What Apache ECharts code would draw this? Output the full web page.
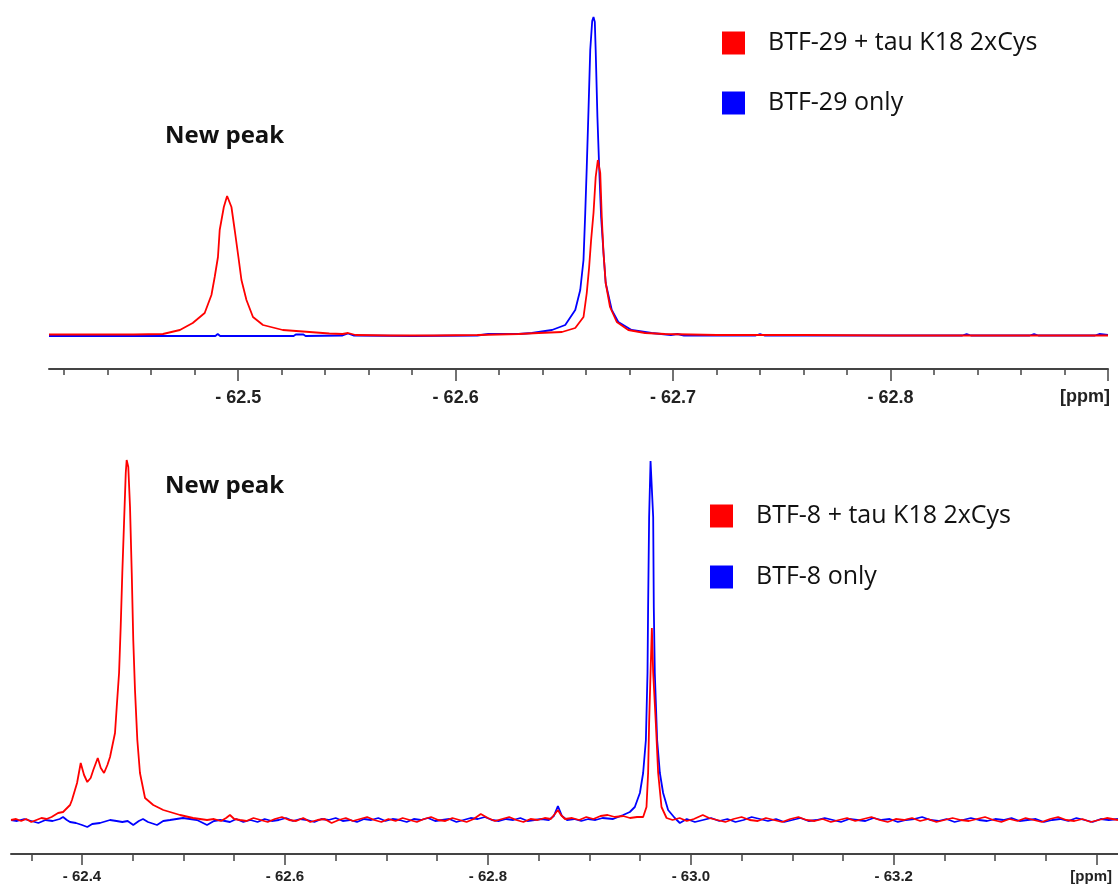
<!DOCTYPE html>
<html>
<head>
<meta charset="utf-8">
<script src="https://cdn.jsdelivr.net/npm/echarts@6/dist/echarts.min.js"></script>
<style>
html,body{margin:0;padding:0;background:#fff;}
#chart{width:1118px;height:886px;}
</style>
</head>
<body>
<div id="chart"></div>
<script>
// ---------- DATA ----------
// Top panel (BTF-29): [ppm, intensity]
const topSeriesNames = ['BTF-29 + tau K18 2xCys', 'BTF-29 only'];
const topRed = [
 [-62.413,1.5],[-62.425,1.5],[-62.440,1.5],[-62.452,1.5],[-62.4654,2],[-62.4732,6],[-62.4791,13],
 [-62.4846,23],[-62.4877,41],[-62.4892,59],[-62.4907,79],[-62.4915,106],[-62.4934,129],[-62.4949,140],
 [-62.4969,129],[-62.4984,106],[-62.5001,79],[-62.5015,56],[-62.5038,36],[-62.5068,19],[-62.5114,11],
 [-62.5205,6],[-62.5328,4],[-62.5419,2.5],[-62.5480,2],[-62.5505,3],[-62.5540,1],[-62.570,0.5],
 [-62.590,0.5],[-62.610,1],[-62.6290,2],[-62.6382,3],[-62.6489,4],[-62.6550,8],[-62.6588,19],
 [-62.6603,43],[-62.6614,69],[-62.6623,96],[-62.6634,123],[-62.6644,159],[-62.6654,176],[-62.6665,163],
 [-62.6672,119],[-62.6680,83],[-62.6690,53],[-62.6710,29],[-62.6741,14],[-62.6794,6],[-62.6871,3],
 [-62.6962,2],[-62.720,1],[-62.760,1],[-62.800,0.5],[-62.850,0.5],[-62.900,0.5]
];
const topBlue = [
 [-62.413,0],[-62.430,0],[-62.450,0],[-62.470,0],[-62.4895,0],[-62.4906,2],[-62.4917,0],[-62.5100,0],
 [-62.5255,0],[-62.5265,1.5],[-62.5300,1.5],[-62.5310,0],[-62.5480,0.5],[-62.5505,2.5],[-62.5530,0.5],
 [-62.5800,0],[-62.6100,0.5],[-62.6150,2],[-62.6290,2],[-62.6351,3],[-62.6443,6],[-62.6504,11],
 [-62.6550,26],[-62.6573,46],[-62.6588,76],[-62.6596,123],[-62.6603,169],[-62.6611,226],[-62.6619,286],
 [-62.6628,315],[-62.6634,319],[-62.6640,314],[-62.6644,286],[-62.6652,219],[-62.6660,169],[-62.6669,119],
 [-62.6680,83],[-62.6690,53],[-62.6718,26],[-62.6748,14],[-62.6809,6],[-62.6901,3],[-62.6990,1],
 [-62.7020,2],[-62.7050,0.5],[-62.7380,0.5],[-62.7400,2],[-62.7420,0.5],[-62.8330,0.5],[-62.8350,2],
 [-62.8370,0.5],[-62.8640,0.5],[-62.8660,2],[-62.8680,0.5],[-62.8940,0.5],[-62.8960,2],[-62.9000,1]
];
const topMajorTicks = [-62.5, -62.6, -62.7, -62.8, -62.9];
const topLabelTicks = [-62.5, -62.6, -62.7, -62.8];
const topMinorTicks = [-62.42,-62.44,-62.46,-62.48,-62.52,-62.54,-62.56,-62.58,-62.62,-62.64,-62.66,-62.68,
 -62.72,-62.74,-62.76,-62.78,-62.82,-62.84,-62.86,-62.88];

// Bottom panel (BTF-8): [ppm, intensity]
const bottomSeriesNames = ['BTF-8 + tau K18 2xCys', 'BTF-8 only'];
const bottomRed = [
 [-62.330,0],[-62.335,1],[-62.340,-1],[-62.345,1],[-62.350,-2],[-62.355,0],[-62.360,2],[-62.365,1],
 [-62.370,3],[-62.3764,7],[-62.3813,8],[-62.3882,15],[-62.3901,20],[-62.3951,37],[-62.3987,57],
 [-62.4020,45],[-62.4052,38],[-62.4085,42],[-62.4111,50],[-62.4155,62],[-62.4185,52],[-62.4217,47],
 [-62.4250,55],[-62.4276,63],[-62.4325,87],[-62.4342,113],[-62.4365,147],[-62.4381,193],[-62.4397,247],
 [-62.4414,297],[-62.4431,347],[-62.4440,360],[-62.4448,358],[-62.4456,353],[-62.4473,313],[-62.4490,247],
 [-62.4505,180],[-62.4522,130],[-62.4545,80],[-62.4571,47],[-62.4621,22],[-62.4702,15],[-62.4801,10],
 [-62.4966,5],[-62.5094,2],[-62.5232,0],[-62.530,1],[-62.537,-1],[-62.542,2],[-62.5458,5],[-62.5500,1],
 [-62.5557,0],[-62.562,-1],[-62.569,2],[-62.576,0],[-62.583,-2],[-62.590,1],[-62.597,3],[-62.604,0],
 [-62.611,-1],[-62.618,2],[-62.625,-2],[-62.632,0],[-62.639,1],[-62.646,-3],[-62.653,0],[-62.660,2],
 [-62.667,-1],[-62.674,1],[-62.681,3],[-62.688,0],[-62.695,-2],[-62.702,1],[-62.709,-1],[-62.716,2],
 [-62.723,0],[-62.730,-2],[-62.737,1],[-62.744,3],[-62.751,0],[-62.758,-1],[-62.765,2],[-62.772,0],
 [-62.779,-2],[-62.786,1],[-62.793,6],[-62.800,2],[-62.807,-1],[-62.814,1],[-62.821,3],[-62.828,0],
 [-62.835,-2],[-62.842,1],[-62.849,0],[-62.856,2],[-62.862,1],[-62.866,6],[-62.869,10],[-62.872,5],
 [-62.876,1],[-62.883,2],[-62.890,0],[-62.897,3],[-62.904,1],[-62.911,4],[-62.918,5],[-62.925,3],
 [-62.9333,4],[-62.940,2],[-62.947,3],[-62.9530,3],[-62.9563,13],[-62.9579,47],[-62.9589,97],
 [-62.9603,147],[-62.9616,192],[-62.9629,147],[-62.9655,97],[-62.9678,47],[-62.9711,13],[-62.9761,2],
 [-62.982,0],[-62.989,2],[-62.996,-1],[-63.003,1],[-63.0118,5],[-63.018,2],[-63.026,0],[-63.034,-2],
 [-63.042,1],[-63.050,3],[-63.058,0],[-63.066,-1],[-63.074,2],[-63.082,0],[-63.090,-2],[-63.098,1],
 [-63.106,3],[-63.114,0],[-63.122,-1],[-63.130,1],[-63.138,-2],[-63.146,0],[-63.154,2],[-63.162,-1],
 [-63.170,1],[-63.178,3],[-63.186,0],[-63.194,-2],[-63.202,1],[-63.210,0],[-63.218,2],[-63.226,-1],
 [-63.234,1],[-63.242,-2],[-63.250,0],[-63.258,2],[-63.266,0],[-63.274,-1],[-63.282,1],[-63.290,3],
 [-63.298,0],[-63.306,-2],[-63.314,1],[-63.322,-1],[-63.330,2],[-63.338,0],[-63.346,-2],[-63.354,1],
 [-63.362,3],[-63.370,0],[-63.378,-1],[-63.386,1],[-63.394,-2],[-63.402,0],[-63.410,2],[-63.421,0]
];
const bottomBlue = [
 [-62.330,0],[-62.336,-1],[-62.343,1],[-62.350,-1],[-62.357,-3],[-62.364,0],[-62.371,-1],[-62.378,1],
 [-62.3813,3],[-62.3850,0],[-62.3882,-2],[-62.394,-3],[-62.4000,-5],[-62.4052,-7],[-62.410,-4],
 [-62.4177,-3],[-62.4276,0],[-62.4340,-1],[-62.4397,-2],[-62.4450,-1],[-62.4505,-5],[-62.4560,-1],
 [-62.4601,1],[-62.465,-2],[-62.4739,-5],[-62.480,-1],[-62.4867,0],[-62.4995,2],[-62.5133,0],
 [-62.5232,-5],[-62.530,-1],[-62.5360,0],[-62.5458,-2],[-62.552,1],[-62.559,-2],[-62.566,0],[-62.573,-2],
 [-62.580,1],[-62.587,-1],[-62.594,0],[-62.601,2],[-62.608,-1],[-62.615,1],[-62.622,0],[-62.629,-2],
 [-62.636,1],[-62.643,0],[-62.650,2],[-62.657,-1],[-62.664,0],[-62.671,-2],[-62.678,1],[-62.685,0],
 [-62.692,2],[-62.699,-1],[-62.706,1],[-62.713,0],[-62.720,-2],[-62.727,1],[-62.734,0],[-62.741,2],
 [-62.748,-1],[-62.755,0],[-62.762,1],[-62.769,-2],[-62.776,0],[-62.783,2],[-62.790,1],[-62.797,3],
 [-62.804,0],[-62.811,-1],[-62.818,1],[-62.825,0],[-62.832,2],[-62.839,-1],[-62.846,0],[-62.853,1],
 [-62.860,0],[-62.865,4],[-62.869,14],[-62.873,4],[-62.878,0],[-62.885,1],[-62.892,-1],[-62.899,1],
 [-62.906,0],[-62.913,2],[-62.9234,1],[-62.9333,5],[-62.9399,8],[-62.9448,13],[-62.9498,27],[-62.9530,47],
 [-62.9557,80],[-62.9573,147],[-62.9579,213],[-62.9589,303],[-62.9603,359],[-62.9616,359],[-62.9629,303],
 [-62.9635,213],[-62.9645,147],[-62.9668,80],[-62.9695,47],[-62.9727,27],[-62.9776,10],[-62.9842,2],
 [-62.9892,-3],[-62.996,1],[-63.004,-2],[-63.012,0],[-63.020,2],[-63.028,-1],[-63.036,1],[-63.044,-2],
 [-63.052,0],[-63.060,3],[-63.068,1],[-63.076,-1],[-63.084,1],[-63.092,-2],[-63.100,0],[-63.108,2],
 [-63.116,-1],[-63.124,0],[-63.132,2],[-63.140,0],[-63.148,-2],[-63.156,1],[-63.164,0],[-63.172,-1],
 [-63.180,2],[-63.188,0],[-63.196,1],[-63.204,-2],[-63.212,0],[-63.220,1],[-63.228,3],[-63.236,0],
 [-63.244,-1],[-63.252,1],[-63.260,-2],[-63.268,0],[-63.276,2],[-63.284,0],[-63.292,-1],[-63.300,1],
 [-63.308,0],[-63.316,2],[-63.324,-1],[-63.332,0],[-63.340,1],[-63.348,-2],[-63.356,0],[-63.364,1],
 [-63.372,-1],[-63.380,2],[-63.388,0],[-63.396,-2],[-63.404,1],[-63.412,0],[-63.421,1]
];
const bottomMajorTicks = [-62.4, -62.6, -62.8, -63.0, -63.2, -63.4];
const bottomLabelTicks = [-62.4, -62.6, -62.8, -63.0, -63.2];
const bottomMinorTicks = [-62.35,-62.45,-62.5,-62.55,-62.65,-62.7,-62.75,-62.85,-62.9,-62.95,
 -63.05,-63.1,-63.15,-63.25,-63.3,-63.35];

const annotationText = 'New peak';
const unitText = '[ppm]';

// ---------- CHART ----------
const RED = '#ff0000', BLUE = '#0000ff';
const labelFmt = v => '- ' + Math.abs(v).toFixed(1);
const chart = echarts.init(document.getElementById('chart'), null, {renderer: 'canvas'});

function mainAxis(gridIndex, min, max, majors, labels, fontSize, margin, tickLen) {
  return {
    type: 'value', gridIndex, min, max, inverse: true, position: 'bottom',
    axisLine: {show: true, onZero: false, lineStyle: {color: '#444', width: 2}},
    axisTick: {show: true, customValues: majors, length: tickLen, lineStyle: {color: '#444', width: 1.5}},
    axisLabel: {show: true, customValues: labels, formatter: labelFmt, margin,
      fontFamily: 'Liberation Sans', fontWeight: 'bold', fontSize, color: '#222'},
    splitLine: {show: false}
  };
}
function minorAxis(gridIndex, min, max, minors, tickLen) {
  return {
    type: 'value', gridIndex, min, max, inverse: true, position: 'bottom',
    axisLine: {show: false, onZero: false},
    axisTick: {show: true, customValues: minors, length: tickLen, lineStyle: {color: '#444', width: 1.5}},
    axisLabel: {show: false},
    splitLine: {show: false}
  };
}
function lineSeries(name, data, color, xAxisIndex, yAxisIndex) {
  return {name, type: 'line', data, xAxisIndex, yAxisIndex, showSymbol: false, symbol: 'none',
    color, lineStyle: {color, width: 1.8}, itemStyle: {color}, animation: false};
}
const legendText = {fontFamily: 'Open Sans', fontSize: 25, color: '#111', lineHeight: 30, padding: [0, 0, 0, 18]};
const legendBase = {
  orient: 'vertical', icon: 'rect', itemWidth: 23, itemHeight: 23,
  textStyle: legendText, selectedMode: false
};

chart.setOption({
  animation: false,
  grid: [
    {left: 49, right: 10, top: 10, bottom: 517},
    {left: 11, right: 0, top: 455, bottom: 32}
  ],
  xAxis: [
    mainAxis(0, -62.9, -62.413, topMajorTicks, topLabelTicks, 18, 20, 12),
    minorAxis(0, -62.9, -62.413, topMinorTicks, 6),
    mainAxis(1, -63.421, -62.330, bottomMajorTicks, bottomLabelTicks, 15, 15, 11),
    minorAxis(1, -63.421, -62.330, bottomMinorTicks, 7)
  ],
  yAxis: [
    {type: 'value', gridIndex: 0, min: -33, max: 326, show: false, splitLine: {show: false}},
    {type: 'value', gridIndex: 1, min: -34, max: 365, show: false, splitLine: {show: false}}
  ],
  legend: [
    Object.assign({}, legendBase, {data: topSeriesNames, left: 717, top: 23, itemGap: 30}),
    Object.assign({}, legendBase, {data: bottomSeriesNames, left: 705, top: 496, itemGap: 31})
  ],
  series: [
    lineSeries(topSeriesNames[1], topBlue, BLUE, 0, 0),
    lineSeries(topSeriesNames[0], topRed, RED, 0, 0),
    lineSeries(bottomSeriesNames[1], bottomBlue, BLUE, 2, 1),
    lineSeries(bottomSeriesNames[0], bottomRed, RED, 2, 1)
  ],
  graphic: [
    {type: 'text', left: 165, top: 124, style: {text: annotationText, fontFamily: 'Open Sans', fontWeight: 'bold', fontSize: 24, fill: '#111'}},
    {type: 'text', left: 165, top: 474, style: {text: annotationText, fontFamily: 'Open Sans', fontWeight: 'bold', fontSize: 24, fill: '#111'}},
    {type: 'text', right: 8, top: 388, style: {text: unitText, fontFamily: 'Liberation Sans', fontWeight: 'bold', fontSize: 18, fill: '#222'}},
    {type: 'text', right: 6, top: 869, style: {text: unitText, fontFamily: 'Liberation Sans', fontWeight: 'bold', fontSize: 15, fill: '#222'}}
  ]
});
</script>
</body>
</html>
